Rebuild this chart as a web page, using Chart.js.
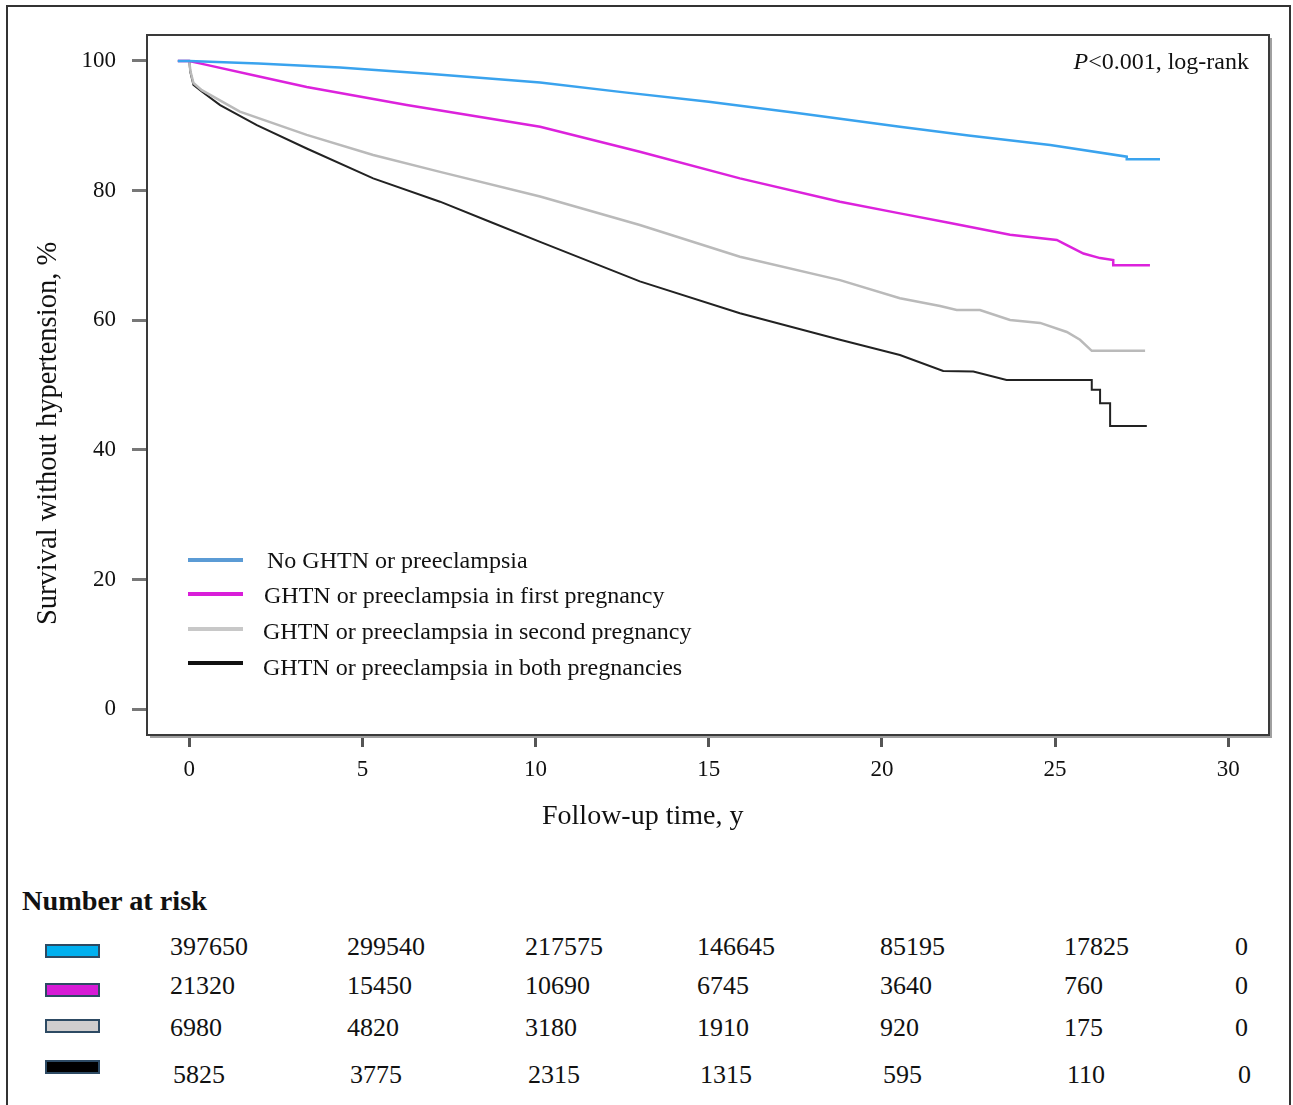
<!DOCTYPE html>
<html><head><meta charset="utf-8">
<script src="https://cdn.jsdelivr.net/npm/chart.js@4.4.0/dist/chart.umd.min.js"></script>
<style>
html,body{margin:0;padding:0;background:#fff;width:1293px;height:1105px;overflow:hidden;font-family:"Liberation Serif","Times New Roman",serif;color:#111;}
#frame{position:absolute;left:6px;top:5px;width:1281px;height:1200px;border:2px solid #333;}
canvas{position:absolute;left:0;top:0;}
.t{position:absolute;white-space:nowrap;line-height:1;}
.box{position:absolute;box-sizing:border-box;border:2px solid #2d4a63;}
.leg{position:absolute;height:4px;}
</style></head><body>
<div id="frame"></div>
<canvas id="c" width="1293" height="800"></canvas>
<div id="overlay"></div>
<script>
// ---------- data ----------
const xTicks = [0, 5, 10, 15, 20, 25, 30];
const yTicks = [0, 20, 40, 60, 80, 100];
const seriesLabels = [
  "No GHTN or preeclampsia",
  "GHTN or preeclampsia in first pregnancy",
  "GHTN or preeclampsia in second pregnancy",
  "GHTN or preeclampsia in both pregnancies"
];
const timeNone = [-0.33, 0, 2, 4.35, 7, 10.13, 12.5, 15, 17.5, 20.52, 22.5, 24.86, 27.07, 27.07, 28.03];
const survNone = [100, 100, 99.6, 99.0, 98.0, 96.7, 95.2, 93.7, 92.0, 89.87, 88.5, 87.04, 85.24, 84.84, 84.84];

const timeFirst = [-0.33, 0, 0.5, 1.95, 3.39, 6.28, 10.13, 13.01, 15.90, 18.79, 20.52, 21.97, 23.70, 25.05, 25.34, 25.82, 26.30, 26.68, 26.68, 27.74];
const survFirst = [100, 100, 99.4, 97.7, 96.0, 93.2, 89.87, 86.0, 81.9, 78.3, 76.5, 75.0, 73.2, 72.4, 71.6, 70.3, 69.6, 69.3, 68.5, 68.5];

const timeSecond = [-0.33, 0, 0.03, 0.12, 0.36, 1.46, 3.39, 5.31, 7.24, 10.13, 13.01, 15.90, 18.79, 20.52, 21.68, 22.16, 22.83, 23.70, 24.57, 25.34, 25.72, 26.06, 27.60];
const survSecond = [100, 100, 98.5, 96.6, 95.5, 92.2, 88.6, 85.5, 82.9, 79.1, 74.7, 69.8, 66.2, 63.4, 62.2, 61.6, 61.6, 60.05, 59.6, 58.2, 57.0, 55.3, 55.3];

const timeBoth = [-0.33, 0, 0.03, 0.12, 0.36, 0.89, 1.95, 3.39, 5.31, 7.24, 8.68, 10.13, 13.01, 15.90, 18.79, 20.52, 21.77, 22.64, 23.60, 26.06, 26.06, 26.30, 26.30, 26.59, 26.59, 27.65];
const survBoth = [100, 100, 98.3, 96.3, 95.3, 93.2, 90.1, 86.5, 81.9, 78.3, 75.2, 72.1, 66.0, 61.1, 57.0, 54.65, 52.2, 52.1, 50.8, 50.8, 49.3, 49.3, 47.2, 47.2, 43.7, 43.7];

const riskNone   = [397650, 299540, 217575, 146645, 85195, 17825, 0];
const riskFirst  = [21320, 15450, 10690, 6745, 3640, 760, 0];
const riskSecond = [6980, 4820, 3180, 1910, 920, 175, 0];
const riskBoth   = [5825, 3775, 2315, 1315, 595, 110, 0];

// ---------- styles ----------
const lineColors = ["#3aa3ee", "#dc22dc", "#bababa", "#222222"];
const legendColors = ["#5b9bd5", "#d91ed9", "#c8c8c8", "#111111"];
const boxColors = ["#00b0f0", "#d61bd6", "#d0cece", "#000000"];
const lineWidths = [2.5, 2.5, 2.5, 2];

const times = [timeNone, timeFirst, timeSecond, timeBoth];
const survs = [survNone, survFirst, survSecond, survBoth];
const risks = [riskNone, riskFirst, riskSecond, riskBoth];

Chart.defaults.font.family = '"Liberation Serif", "Times New Roman", serif';
Chart.defaults.color = '#111';

const framePlugin = {
  id: 'plotFrame',
  afterDraw(chart) {
    const { ctx, chartArea: a } = chart;
    ctx.save();
    ctx.strokeStyle = '#a0a0a0';
    ctx.lineWidth = 2;
    ctx.beginPath();
    ctx.moveTo(a.left + 3, a.bottom + 2);
    ctx.lineTo(a.right + 2, a.bottom + 2);
    ctx.lineTo(a.right + 2, a.top + 3);
    ctx.stroke();
    ctx.strokeStyle = '#3a3a3a';
    ctx.lineWidth = 2;
    ctx.strokeRect(a.left, a.top, a.right - a.left, a.bottom - a.top);
    ctx.restore();
  }
};

new Chart(document.getElementById('c'), {
  type: 'scatter',
  data: {
    datasets: seriesLabels.map((lab, i) => ({
      label: lab,
      data: times[i].map((t, j) => ({ x: t, y: survs[i][j] })),
      showLine: true,
      borderColor: lineColors[i],
      backgroundColor: lineColors[i],
      borderWidth: lineWidths[i],
      pointRadius: 0,
      tension: 0,
      fill: false
    }))
  },
  options: {
    responsive: false,
    animation: false,
    layout: { padding: { left: 0, top: 35, right: 24, bottom: 0 } },
    plugins: { legend: { display: false }, tooltip: { enabled: false } },
    scales: {
      x: {
        type: 'linear',
        min: -1.2215,
        max: 31.178,
        afterBuildTicks: (ax) => { ax.ticks = xTicks.map(v => ({ value: v })); },
        afterFit: (s) => { s.height = 65; },
        ticks: { font: { size: 23 }, color: '#111', padding: 9, autoSkip: false, maxRotation: 0 },
        grid: { display: true, drawOnChartArea: false, drawTicks: true, tickLength: 12, tickWidth: 3, tickColor: '#555' },
        border: { display: false }
      },
      y: {
        type: 'linear',
        min: -3.96,
        max: 104.01,
        afterBuildTicks: (ax) => { ax.ticks = yTicks.map(v => ({ value: v })); },
        afterFit: (s) => { s.width = 147; },
        ticks: { font: { size: 23 }, color: '#111', padding: 16, autoSkip: false },
        grid: { display: true, drawOnChartArea: false, drawTicks: true, tickLength: 15, tickWidth: 3, tickColor: '#777' },
        border: { display: false }
      }
    }
  },
  plugins: [framePlugin]
});

// ---------- HTML text overlays ----------
const ov = document.getElementById('overlay');
const ASC = 0.8375;
function addText(html, left, baseline, size, extra) {
  const d = document.createElement('div');
  d.className = 't';
  d.innerHTML = html;
  d.style.fontSize = size + 'px';
  d.style.top = (baseline - ASC * size) + 'px';
  if (left !== null) d.style.left = left + 'px';
  if (extra) Object.assign(d.style, extra);
  ov.appendChild(d);
  return d;
}

// p-value
addText('<i>P</i>&lt;0.001, log-rank', null, 69, 24, { right: (1293 - 1249) + 'px' });

// axis titles
addText('Follow-up time, y', 542, 824, 28);
const yt = addText('Survival without hypertension, %', 0, 0, 28.5);
yt.style.left = (56.7 - ASC * 28.5) + 'px';
yt.style.top = '625px';
yt.style.transformOrigin = '0 0';
yt.style.transform = 'rotate(-90deg)';

// legend
const legLineY = [560, 594, 629, 663];
const legTextX = [267, 264, 263, 263];
const legBase = [568, 603, 639, 675];
seriesLabels.forEach((lab, i) => {
  const l = document.createElement('div');
  l.className = 'leg';
  l.style.left = '188px';
  l.style.width = '55px';
  l.style.top = (legLineY[i] - 2) + 'px';
  l.style.background = legendColors[i];
  ov.appendChild(l);
  addText(lab, legTextX[i], legBase[i], 24);
});

// number at risk
addText('<b>Number at risk</b>', 22, 910.7, 28.3);
const boxTop = [944, 983, 1019, 1060];
const rowBase = [956, 995, 1036.7, 1083.3];
const colX = [170, 347, 525, 697, 880, 1064, 1235];
const rowShift = [0, 0, 0, 3];
risks.forEach((row, i) => {
  const b = document.createElement('div');
  b.className = 'box';
  b.style.left = '45px';
  b.style.width = '55px';
  b.style.top = boxTop[i] + 'px';
  b.style.height = '14px';
  b.style.background = boxColors[i];
  ov.appendChild(b);
  row.forEach((n, j) => addText(String(n), colX[j] + rowShift[i], rowBase[i], 26));
});
</script>
</body></html>
